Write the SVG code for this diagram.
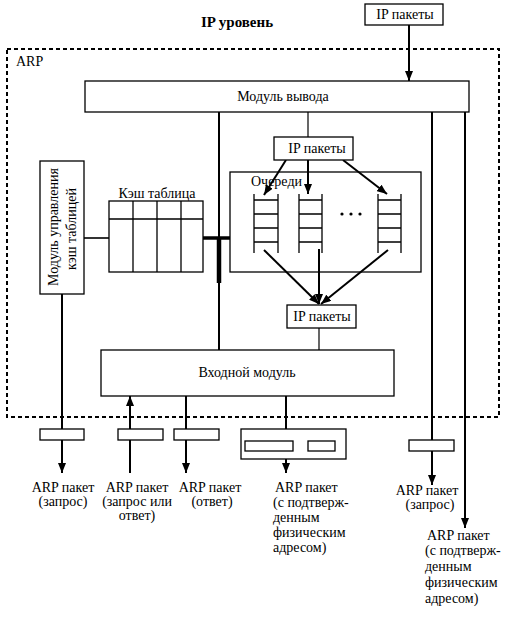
<svg xmlns="http://www.w3.org/2000/svg" width="514" height="617" viewBox="0 0 514 617" font-family="'Liberation Serif', serif">
<defs>
<style>
text{font-family:'Liberation Serif','DejaVu Serif',serif;font-size:14px;fill:#000}
.c{text-anchor:middle}
.b{fill:#fff;stroke:#000;stroke-width:1.3}
.n{fill:none;stroke:#000;stroke-width:1.3}
.l{fill:none;stroke:#000;stroke-width:2}
.t{fill:none;stroke:#000;stroke-width:1.2}
</style>
<marker id="ah" markerUnits="userSpaceOnUse" markerWidth="10" markerHeight="8" refX="10" refY="4" orient="auto">
<path d="M0,0 L10,4 L0,8 z" fill="#000"/>
</marker>
</defs>
<rect width="514" height="617" fill="#fff"/>
<text x="237" y="27" class="c" style="font-weight:bold;font-size:15px">IP уровень</text>
<g id="arp-border">
<rect x="7" y="49" width="492" height="368" fill="none" stroke="#000" stroke-width="2" stroke-dasharray="4,3"/>
<text x="16" y="66">ARP</text>
</g>
<g id="connectors">
<line x1="409" y1="25" x2="409" y2="81" class="l" marker-end="url(#ah)"/>
<line x1="219" y1="112" x2="219" y2="350" class="l"/>
<line x1="219" y1="238" x2="219" y2="283" stroke="#000" stroke-width="4.5"/>
<line x1="203" y1="238" x2="230" y2="238" stroke="#000" stroke-width="3.5"/>
<line x1="84" y1="238" x2="109" y2="238" class="l" style="stroke-width:1.6"/>
<line x1="308" y1="112" x2="308" y2="137" class="t"/>
<line x1="286" y1="160" x2="264" y2="195" class="l" marker-end="url(#ah)"/>
<line x1="308" y1="160" x2="308" y2="194" class="l" marker-end="url(#ah)"/>
<line x1="343" y1="160" x2="387" y2="194" class="l" marker-end="url(#ah)"/>
<line x1="264" y1="250" x2="319" y2="304" class="l" marker-end="url(#ah)"/>
<line x1="319" y1="249" x2="319" y2="304" class="l" marker-end="url(#ah)"/>
<line x1="388" y1="250" x2="321" y2="304" class="l" marker-end="url(#ah)"/>
<line x1="319" y1="328" x2="319" y2="350" class="t"/>
<line x1="62" y1="294" x2="62" y2="473" class="l" marker-end="url(#ah)"/>
<line x1="130" y1="473" x2="130" y2="396" class="l" marker-end="url(#ah)"/>
<line x1="186" y1="396" x2="186" y2="473" class="l" marker-end="url(#ah)"/>
<line x1="286" y1="396" x2="286" y2="429" class="l"/>
<line x1="286" y1="459" x2="286" y2="473" class="l" marker-end="url(#ah)"/>
<line x1="432" y1="112" x2="432" y2="485" class="l" marker-end="url(#ah)"/>
<line x1="465" y1="112" x2="465" y2="528" class="l" marker-end="url(#ah)"/>
</g>
<g id="ip-top">
<rect x="365" y="4" width="78" height="21" class="b"/>
<text x="405" y="19" class="c">IP пакеты</text>
</g>
<g id="output-module">
<rect x="85" y="81" width="384" height="31" class="b"/>
<text x="283" y="101" class="c">Модуль вывода</text>
</g>
<g id="cache-manager">
<rect x="40" y="161" width="44" height="133" class="b"/>
<text transform="translate(58,227) rotate(-90)" class="c">Модуль управления</text>
<text transform="translate(76,229) rotate(-90)" class="c">кэш таблицей</text>
</g>
<g id="cache-table">
<text x="157" y="198" class="c">Кэш таблица</text>
<rect x="109" y="201" width="94" height="71" class="b"/>
<path d="M109,219 H203 M133,201 V272 M157,201 V272 M181,201 V272" class="n"/>
</g>
<g id="ip-mid">
<rect x="274" y="137" width="79" height="23" class="b"/>
<text x="317" y="153" class="c">IP пакеты</text>
</g>
<g id="queues">
<rect x="230" y="172" width="191" height="100" class="n"/>
<text x="251" y="186">Очереди</text>
<path d="M254,194 V253 M278,194 V253 M254,200 H278 M254,214 H278 M254,228 H278 M254,242 H278" class="n"/>
<path d="M299,194 V253 M322,194 V253 M299,200 H322 M299,214 H322 M299,228 H322 M299,242 H322" class="n"/>
<path d="M378,194 V253 M401,194 V253 M378,200 H401 M378,214 H401 M378,228 H401 M378,242 H401" class="n"/>
<circle cx="342" cy="214" r="1.6"/>
<circle cx="351" cy="214" r="1.6"/>
<circle cx="360" cy="214" r="1.6"/>
</g>
<g id="ip-low">
<rect x="287" y="305" width="69" height="23" class="b"/>
<text x="322" y="321" class="c">IP пакеты</text>
</g>
<g id="input-module">
<rect x="101" y="350" width="293" height="46" class="b"/>
<text x="247" y="377" class="c">Входной модуль</text>
</g>
<g id="pkt1">
<rect x="40" y="429" width="44" height="11" class="b"/>
<text x="63" y="492" class="c">ARP пакет</text>
<text x="63" y="506" class="c">(запрос)</text>
</g>
<g id="pkt2">
<rect x="118" y="429" width="45" height="11" class="b"/>
<text x="137" y="492" class="c">ARP пакет</text>
<text x="137" y="506" class="c">(запрос или</text>
<text x="137" y="520" class="c">ответ)</text>
</g>
<g id="pkt3">
<rect x="174" y="429" width="45" height="11" class="b"/>
<text x="210" y="492" class="c">ARP пакет</text>
<text x="212" y="506" class="c">(ответ)</text>
</g>
<g id="pkt4">
<rect x="241" y="429" width="105" height="30" class="b"/>
<rect x="245" y="441" width="48" height="10" class="b"/>
<rect x="308" y="441" width="27" height="10" class="b"/>
<text x="275" y="492">ARP пакет</text>
<text x="273" y="507">(с подтверж-</text>
<text x="273" y="522">денным</text>
<text x="273" y="537">физическим</text>
<text x="273" y="552">адресом)</text>
</g>
<g id="pkt5">
<rect x="409" y="440" width="45" height="11" class="b"/>
<text x="427" y="495" class="c">ARP  пакет</text>
<text x="430" y="509" class="c">(запрос)</text>
</g>
<g id="pkt6">
<text x="427" y="540">ARP пакет</text>
<text x="425" y="555">(с подтверж-</text>
<text x="425" y="571">денным</text>
<text x="425" y="587">физическим</text>
<text x="425" y="603">адресом)</text>
</g>
</svg>
